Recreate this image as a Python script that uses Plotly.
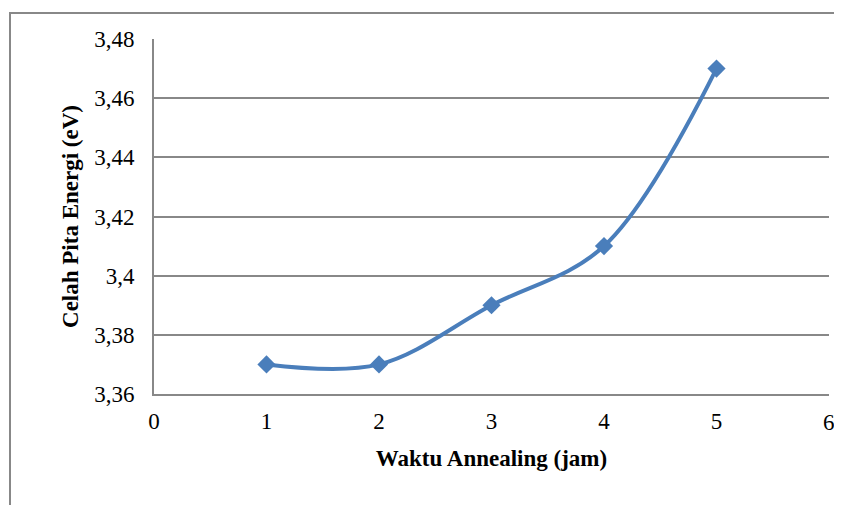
import plotly.graph_objects as go

waktu = [1, 2, 3, 4, 5]
celah = [3.37, 3.37, 3.39, 3.41, 3.47]
x_ticks = [0, 1, 2, 3, 4, 5, 6]
y_ticks = [3.36, 3.38, 3.40, 3.42, 3.44, 3.46, 3.48]
y_labels = ["3,36", "3,38", "3,4", "3,42", "3,44", "3,46", "3,48"]

OFF = 8  # default body margin of the page
W, H = 842 - 2 * OFF, 513 - 2 * OFF
L, R, T, B = 154 - OFF, 829 - OFF, 39 - OFF, 394 - OFF
pw, ph = R - L, B - T

fig = go.Figure()
fig.add_trace(go.Scatter(
    x=waktu, y=celah, mode="lines+markers",
    line=dict(color="#4a7ebb", width=4, shape="spline", smoothing=1),
    marker=dict(symbol="diamond", size=14, color="#4a7ebb"),
    showlegend=False, cliponaxis=False,
))

font = dict(family="Liberation Serif, Times New Roman, serif", size=23, color="#000000")

# the last tick label sits at the very edge of the figure, where plotly drops it;
# draw it as an annotation at the same axis position
edge_annotations = [dict(
    x=x_ticks[-1], y=0, xref="x", yref="paper", text=str(x_ticks[-1]),
    showarrow=False, xanchor="center", yanchor="top", yshift=-14,
    font=dict(size=23, color="#000000"),
)]

fig.update_layout(
    width=W, height=H,
    margin=dict(l=L, r=W - R, t=T, b=H - B),
    paper_bgcolor="white", plot_bgcolor="white",
    font=font,
    xaxis=dict(
        range=[0, 6], tickvals=x_ticks, ticktext=[str(v) for v in x_ticks],
        showgrid=False, zeroline=False, showline=True, linecolor="#888888", linewidth=2,
        ticks="", ticklabelstandoff=5, automargin=False,
        title=dict(text="<b>Waktu Annealing (jam)</b>", font=dict(size=23), standoff=17),
    ),
    yaxis=dict(
        range=[3.36, 3.48], tickvals=y_ticks, ticktext=y_labels,
        showgrid=True, gridcolor="#888888", gridwidth=2,
        zeroline=False, showline=True, linecolor="#888888", linewidth=2,
        ticks="", ticklabelstandoff=13, automargin=False,
        title=dict(text="<b>Celah Pita Energi (eV)</b>", font=dict(size=23), standoff=9),
    ),
    annotations=edge_annotations,
    shapes=[dict(
        type="rect", xref="paper", yref="paper",
        x0=(10 - 154) / pw, x1=1.2, y0=-0.6, y1=(394 - 13) / ph,
        line=dict(color="#888888", width=2), fillcolor="rgba(0,0,0,0)", layer="below",
    )],
)

fig.write_html("out.html")
